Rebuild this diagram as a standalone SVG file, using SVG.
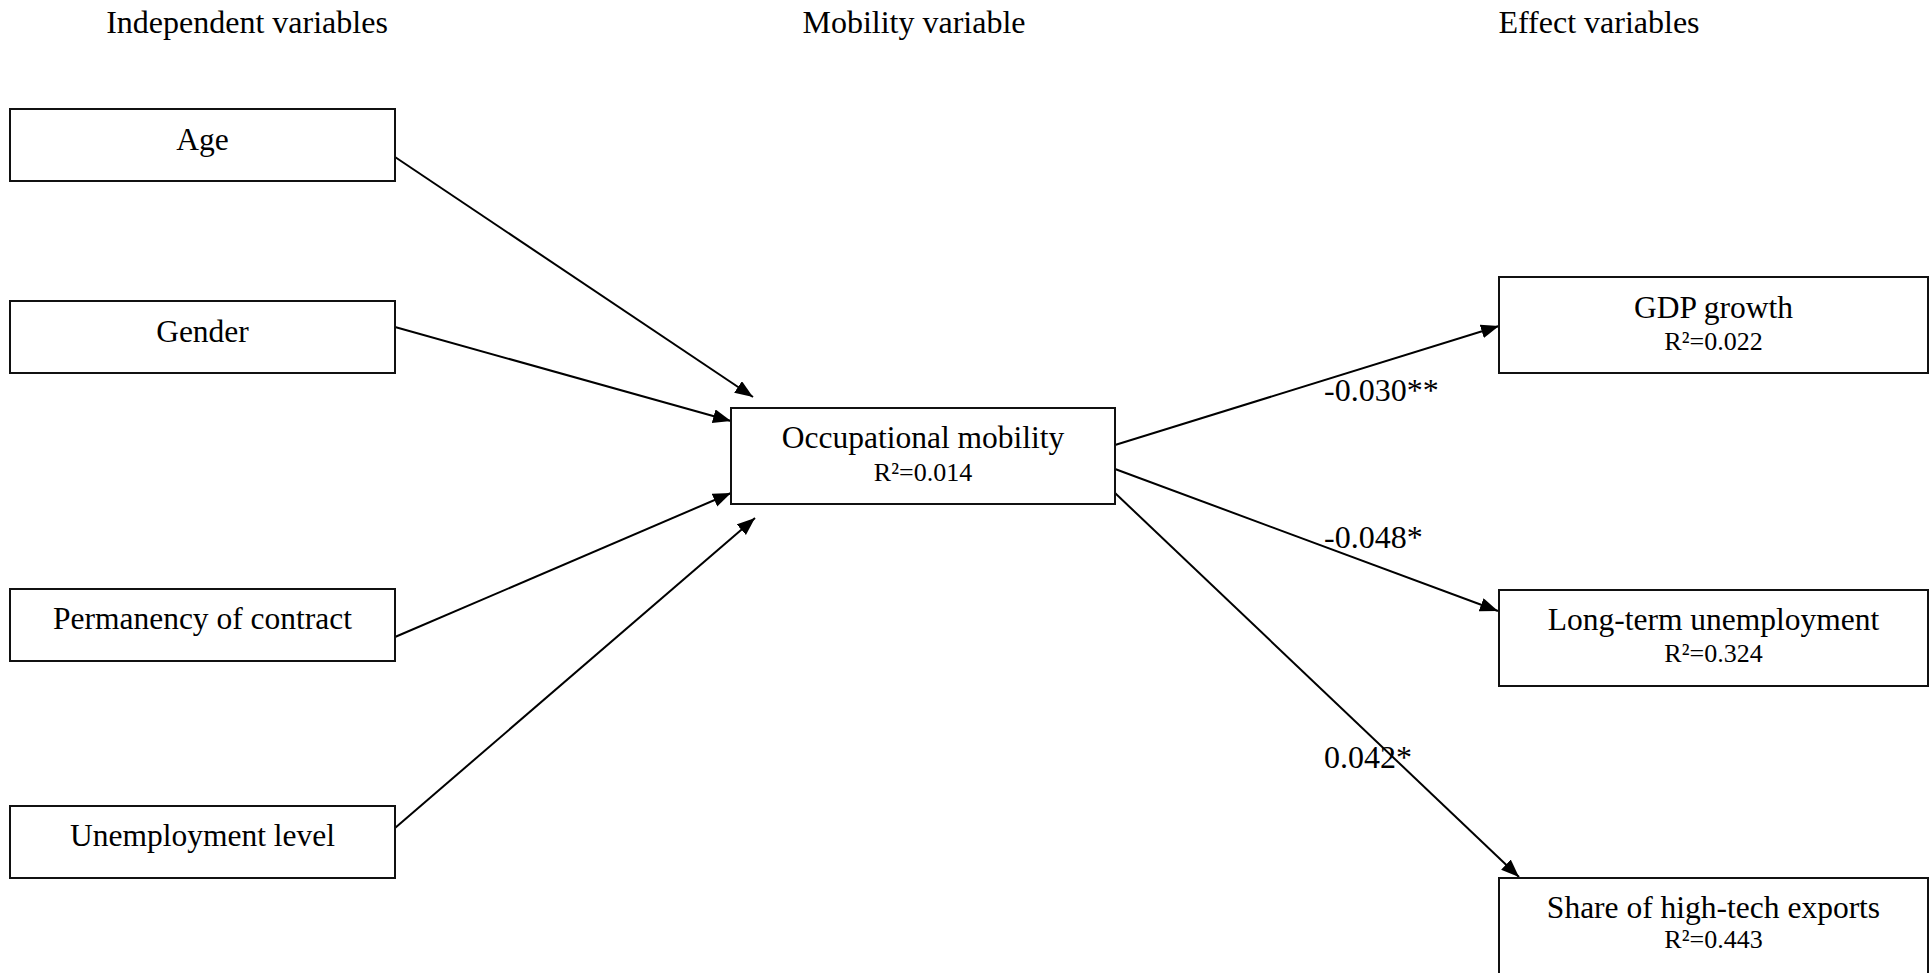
<svg xmlns="http://www.w3.org/2000/svg" width="1931" height="973" viewBox="0 0 1931 973">
<style>
text{font-family:"Liberation Serif","Times New Roman",serif;fill:#000;}
.h{font-size:32px;text-anchor:middle;}
.t{font-size:31.5px;text-anchor:middle;}
.r{font-size:26px;text-anchor:middle;}
.l{font-size:32px;}
.box{fill:#fff;stroke:#111;stroke-width:2;}
.c{stroke:#000;stroke-width:2;fill:none;marker-end:url(#ah);}
</style>
<defs>
<marker id="ah" markerUnits="userSpaceOnUse" markerWidth="20" markerHeight="16" refX="18" refY="7" orient="auto">
<path d="M0,0 L18,7 L0,14 z" fill="#000"/>
</marker>
</defs>
<rect width="1931" height="973" fill="#fff"/>
<g id="headers">
<text class="h" x="247" y="33">Independent variables</text>
<text class="h" x="914" y="33">Mobility variable</text>
<text class="h" x="1599" y="33">Effect variables</text>
</g>
<g id="connectors">
<line class="c" x1="395" y1="157" x2="753" y2="397"/>
<line class="c" x1="395" y1="327" x2="731" y2="421"/>
<line class="c" x1="395" y1="637" x2="731" y2="493"/>
<line class="c" x1="395" y1="828" x2="755" y2="518"/>
<line class="c" x1="1115" y1="445" x2="1499" y2="326"/>
<line class="c" x1="1115" y1="469" x2="1498" y2="611"/>
<line class="c" x1="1115" y1="493" x2="1519" y2="877"/>
<text class="l" x="1324" y="401">-0.030**</text>
<text class="l" x="1324" y="548">-0.048*</text>
<text class="l" x="1324" y="768">0.042*</text>
</g>
<g id="age">
<rect class="box" x="10" y="109" width="385" height="72"/>
<text class="t" x="202.5" y="150">Age</text>
</g>
<g id="gender">
<rect class="box" x="10" y="301" width="385" height="72"/>
<text class="t" x="202.5" y="342">Gender</text>
</g>
<g id="permanency">
<rect class="box" x="10" y="589" width="385" height="72"/>
<text class="t" x="202.5" y="629">Permanency of contract</text>
</g>
<g id="unemployment">
<rect class="box" x="10" y="806" width="385" height="72"/>
<text class="t" x="202.5" y="846">Unemployment level</text>
</g>
<g id="occupational">
<rect class="box" x="731" y="408" width="384" height="96"/>
<text class="t" x="923" y="448">Occupational mobility</text>
<text class="r" x="923" y="481">R²=0.014</text>
</g>
<g id="gdp">
<rect class="box" x="1499" y="277" width="429" height="96"/>
<text class="t" x="1713.5" y="318">GDP growth</text>
<text class="r" x="1713.5" y="350">R²=0.022</text>
</g>
<g id="longterm">
<rect class="box" x="1499" y="590" width="429" height="96"/>
<text class="t" x="1713.5" y="630">Long-term unemployment</text>
<text class="r" x="1713.5" y="662">R²=0.324</text>
</g>
<g id="hightech">
<rect class="box" x="1499" y="878" width="429" height="96"/>
<text class="t" x="1713.5" y="918">Share of high-tech exports</text>
<text class="r" x="1713.5" y="948">R²=0.443</text>
</g>
</svg>
